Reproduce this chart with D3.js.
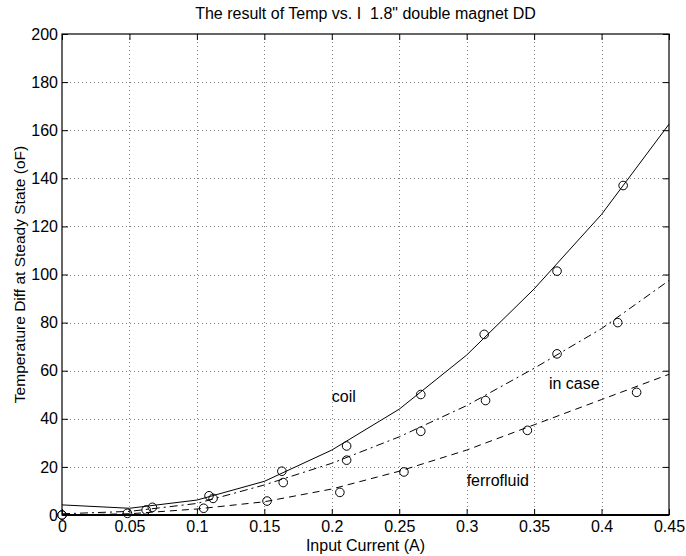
<!DOCTYPE html>
<html>
<head>
<meta charset="utf-8">
<script src="https://cdn.jsdelivr.net/npm/d3@7"></script>
<style>
  body { margin: 0; background: #fff; }
  svg { display: block; font-family: "Liberation Sans", Arial, sans-serif; }
</style>
</head>
<body>
<svg id="chart" width="686" height="556"></svg>
<script>
// fitted curves, sampled every 0.05 A
const fitX = [0, 0.05, 0.1, 0.15, 0.2, 0.25, 0.3, 0.35, 0.4, 0.45];
const coilFit = [4.2, 2.8, 6.2, 14, 27, 44, 66.5, 94, 125, 162.5];
const caseFit = [0.5, 1.5, 4.8, 12.5, 21.5, 32.5, 45.5, 61, 77.5, 97.5];
const ferroFit = [0, 0.5, 2.5, 5.5, 10.8, 18.2, 27, 37.5, 48, 58.5];

// measured points
const coilI = [0, 0.067, 0.109, 0.163, 0.211, 0.266, 0.313, 0.367, 0.416];
const coilT = [0, 3.2, 8, 18.2, 28.7, 50.1, 75.1, 101.4, 137];
const caseI = [0.0624, 0.112, 0.164, 0.211, 0.266, 0.314, 0.367, 0.412];
const caseT = [2.1, 6.9, 13.5, 22.8, 34.8, 47.6, 67, 80];
const ferroI = [0, 0.0485, 0.105, 0.152, 0.206, 0.2535, 0.345, 0.426];
const ferroT = [0, 0.7, 2.8, 5.8, 9.4, 17.9, 35.2, 51];

const xTicks = [0, 0.05, 0.1, 0.15, 0.2, 0.25, 0.3, 0.35, 0.4, 0.45];
const yTicks = [0, 20, 40, 60, 80, 100, 120, 140, 160, 180, 200];

const labels = [
  { text: 'coil', x: 0.2, y: 47 },
  { text: 'in case', x: 0.361, y: 52.5 },
  { text: 'ferrofluid', x: 0.3, y: 12 }
];

const svg = d3.select('#chart');
const pl = 62, pr = 669, pt = 34, pb = 515;
const fs = '16px';

const x = d3.scaleLinear().domain([0, 0.45]).range([pl, pr]);
const y = d3.scaleLinear().domain([0, 200]).range([pb, pt]);

// grid
const grid = svg.append('g').attr('stroke', '#808080').attr('stroke-width', 1)
  .attr('stroke-dasharray', '1,3');
grid.selectAll('.gx').data(xTicks.slice(1, -1)).enter().append('line')
  .attr('x1', d => Math.round(x(d)) + 0.5).attr('x2', d => Math.round(x(d)) + 0.5)
  .attr('y1', pt).attr('y2', pb);
grid.selectAll('.gy').data(yTicks.slice(1, -1)).enter().append('line')
  .attr('y1', d => Math.round(y(d)) + 0.5).attr('y2', d => Math.round(y(d)) + 0.5)
  .attr('x1', pl).attr('x2', pr);

// axes with inward ticks
const tickLen = 6;
const axB = svg.append('g').attr('transform', `translate(0,${pb})`)
  .call(d3.axisBottom(x).tickValues(xTicks).tickSize(-tickLen).tickPadding(6)
    .tickFormat(d3.format('~g')));
const axT = svg.append('g').attr('transform', `translate(0,${pt})`)
  .call(d3.axisTop(x).tickValues(xTicks).tickSize(-tickLen).tickFormat(''));
const axL = svg.append('g').attr('transform', `translate(${pl},0)`)
  .call(d3.axisLeft(y).tickValues(yTicks).tickSize(-tickLen).tickPadding(4));
const axR = svg.append('g').attr('transform', `translate(${pr},0)`)
  .call(d3.axisRight(y).tickValues(yTicks).tickSize(-tickLen).tickFormat(''));

[axB, axT, axL, axR].forEach(a => {
  a.select('.domain').remove();
  a.selectAll('line').attr('stroke', '#000');
  a.selectAll('text').attr('fill', '#000').style('font-size', fs)
    .style('font-family', '"Liberation Sans", Arial, sans-serif');
});

// box
svg.append('rect').attr('x', pl).attr('y', pt)
  .attr('width', pr - pl).attr('height', pb - pt)
  .attr('fill', 'none').attr('stroke', '#000').attr('stroke-width', 1.2);
svg.append('line').attr('x1', pl).attr('x2', pr).attr('y1', pb).attr('y2', pb)
  .attr('stroke', '#000').attr('stroke-width', 2);

// fitted lines
const line = d3.line().x(d => x(d[0])).y(d => y(d[1]));
const fits = [
  { v: coilFit, dash: null },
  { v: caseFit, dash: '8,4,2,4' },
  { v: ferroFit, dash: '7,5' }
];
const plot = svg.append('g');
fits.forEach(f => {
  plot.append('path')
    .datum(fitX.map((d, i) => [d, f.v[i]]))
    .attr('d', line)
    .attr('fill', 'none').attr('stroke', '#000').attr('stroke-width', 1)
    .attr('stroke-dasharray', f.dash);
});

// markers
const pts = [];
coilI.forEach((d, i) => pts.push([d, coilT[i]]));
caseI.forEach((d, i) => pts.push([d, caseT[i]]));
ferroI.forEach((d, i) => pts.push([d, ferroT[i]]));
plot.selectAll('circle').data(pts).enter().append('circle')
  .attr('cx', d => x(d[0])).attr('cy', d => y(d[1])).attr('r', 4.3)
  .attr('fill', 'none').attr('stroke', '#000').attr('stroke-width', 1);

// series labels
plot.selectAll('.lab').data(labels).enter().append('text')
  .attr('x', d => x(d.x)).attr('y', d => y(d.y))
  .style('font-size', fs).text(d => d.text);

// titles
svg.append('text').attr('x', (pl + pr) / 2).attr('y', 19)
  .attr('text-anchor', 'middle').style('font-size', fs).style('white-space', 'pre')
  .text('The result of Temp vs. I  1.8" double magnet DD');
svg.append('text').attr('x', (pl + pr) / 2).attr('y', 551)
  .attr('text-anchor', 'middle').style('font-size', fs)
  .text('Input Current (A)');
svg.append('text').attr('transform', `translate(25,${(pt + pb) / 2}) rotate(-90)`)
  .attr('text-anchor', 'middle').style('font-size', '15.5px')
  .text('Temperature Diff at Steady State (oF)');
</script>
</body>
</html>
